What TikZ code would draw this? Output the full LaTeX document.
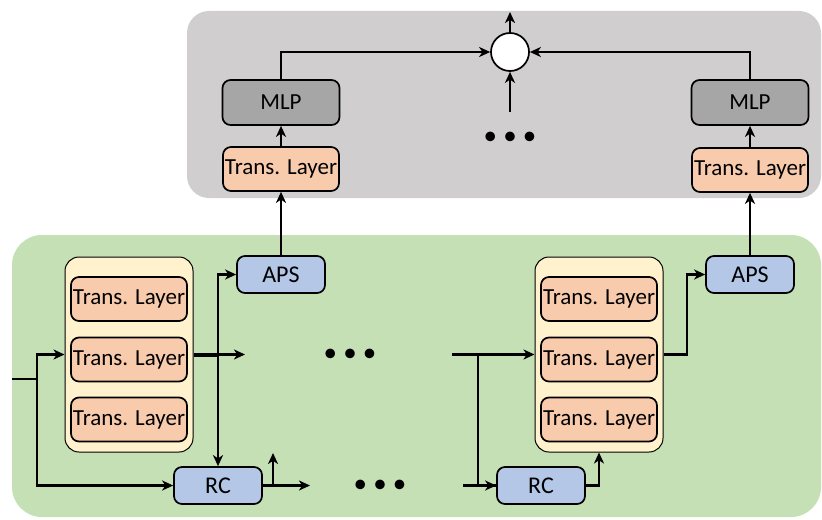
\documentclass[tikz,border=0pt]{standalone}
\usepackage{fontspec}
\setmainfont{Carlito}
\usetikzlibrary{arrows.meta,positioning,calc}
\definecolor{greenbg}{HTML}{C5E0B4}
\definecolor{graybg}{HTML}{D0CECE}
\definecolor{mlpfill}{HTML}{A6A6A6}
\definecolor{transfill}{HTML}{F8CBAD}
\definecolor{stackfill}{HTML}{FFF2CC}
\definecolor{bluefill}{HTML}{B4C7E7}
\tikzset{
    blk/.style={draw, line width=0.85pt, rounded corners=4pt, inner sep=0pt,
        font=\fontsize{11.5}{13}\selectfont},
    trans/.style={blk, fill=transfill, minimum width=58pt, minimum height=22pt},
    mlp/.style={blk, fill=mlpfill, minimum width=58.5pt, minimum height=22.5pt},
    aps/.style={blk, fill=bluefill, minimum width=44pt, minimum height=18.5pt,
        font=\fontsize{12}{13}\selectfont},
    stack/.style={draw, line width=0.5pt, rounded corners=7pt, fill=stackfill,
        minimum width=64pt, minimum height=97.5pt},
    sumnode/.style={draw, circle, fill=white, line width=0.85pt, minimum size=19pt, inner sep=0pt},
    dots/.style={font=\fontsize{13.5}{14}\selectfont, inner sep=0pt},
    arr/.style={line width=1.4pt, -{Stealth[length=5.5pt,width=5pt,inset=1.6pt]}},
    ln/.style={line width=1.4pt}
}
\begin{document}
\begin{tikzpicture}[x=0.5pt, y=-0.5pt]
                        \useasboundingbox (0,0) rectangle (822,519);
                        % backgrounds
                        \fill[graybg, rounded corners=11pt] (187,11) rectangle (821,198);
                        \fill[greenbg, rounded corners=15pt] (12,235) rectangle (821,517);
                        % top part
                        \node[mlp] (mlpL) at (281,102.5) {MLP};
                        \node[trans] (tlTopL) at (281,169) {Trans. Layer};
                        \node[mlp] (mlpR) at (750,102.5) {MLP};
                        \node[trans] (tlTopR) at (750,170) {Trans. Layer};
                        \node[sumnode] (sum) at (510,52) {};
                        \node[dots] (dotsTop) at (510,138) {• • •};
                        \coordinate (out) at (510,12);
                        \coordinate (sumIn) at (510,112);
                        % left stack
                        \node[stack] (stackL) at (129,354.5) {};
                        \node[trans] (tlL1) at (129,299) {Trans. Layer};
                        \node[trans] (tlL2) at (129,359.5) {Trans. Layer};
                        \node[trans] (tlL3) at (129,419.5) {Trans. Layer};
                        \node[aps] (apsL) at (281,274.5) {APS};
                        \node[aps] (rcL) at (218,485.5) {RC};
                        % right stack
                        \node[stack] (stackR) at (599,354.5) {};
                        \node[trans] (tlR1) at (599,299) {Trans. Layer};
                        \node[trans] (tlR2) at (599,359.5) {Trans. Layer};
                        \node[trans] (tlR3) at (599,419.5) {Trans. Layer};
                        \node[aps] (apsR) at (750,274.5) {APS};
                        \node[aps] (rcR) at (541,485.5) {RC};
                        % gaps
                        \node[dots] (dotsMid) at (350,355) {• • •};
                        \node[dots] (dotsLow) at (380,486) {• • •};
                        % helper points
                        \coordinate (in) at (12,379);
                        \coordinate (split) at (37,379);
                        \coordinate (brL) at (218,354.5);
                        \coordinate (nextL) at (245,354.5);
                        \coordinate (rcNextL) at (310,485.5);
                        \coordinate (rcUpL) at (273,485.5);
                        \coordinate (rcUpLTop) at (273,453);
                        \coordinate (inR) at (452,354.5);
                        \coordinate (brR) at (478,354.5);
                        \coordinate (rcInR) at (463,485.5);
                        \coordinate (brR2) at (687,354.5);
                        \draw[ln]
                        (in) -- (split)
                        (rcInR) -- (rcR.west)
                        (brR) -- (brR |- rcR);
                        \draw[line width=2pt] (stackL.east) -- (brL);
                        \draw[arr] (split) |- (stackL.west);
                        \draw[arr] (split) |- (rcL.west);
                        \draw[arr] (brL) -- (nextL);
                        \draw[arr] (brL) |- (apsL.west);
                        \draw[arr] (brL) -- (rcL);
                        \draw[arr] (rcL) -- (rcNextL);
                        \draw[arr] (rcUpL) -- (rcUpLTop);
                        \draw[arr] (inR) -- (stackR.west);
                        \draw[arr] (brR) |- (rcR.west);
                        \draw[arr] (rcR.east) -| (stackR.south);
                        \draw[arr] (stackR.east) -- (brR2) |- (apsR.west);
                        \draw[arr] (apsL) -- (tlTopL);
                        \draw[arr] (apsR) -- (tlTopR);
                        \draw[arr] (tlTopL) -- (mlpL);
                        \draw[arr] (tlTopR) -- (mlpR);
                        \draw[arr] (mlpL.north) |- (sum.west);
                        \draw[arr] (mlpR.north) |- (sum.east);
                        \draw[arr] (sumIn) -- (sum.south);
                        \draw[arr] (sum.north) -- (out);
                    \end{tikzpicture}
\end{document}
